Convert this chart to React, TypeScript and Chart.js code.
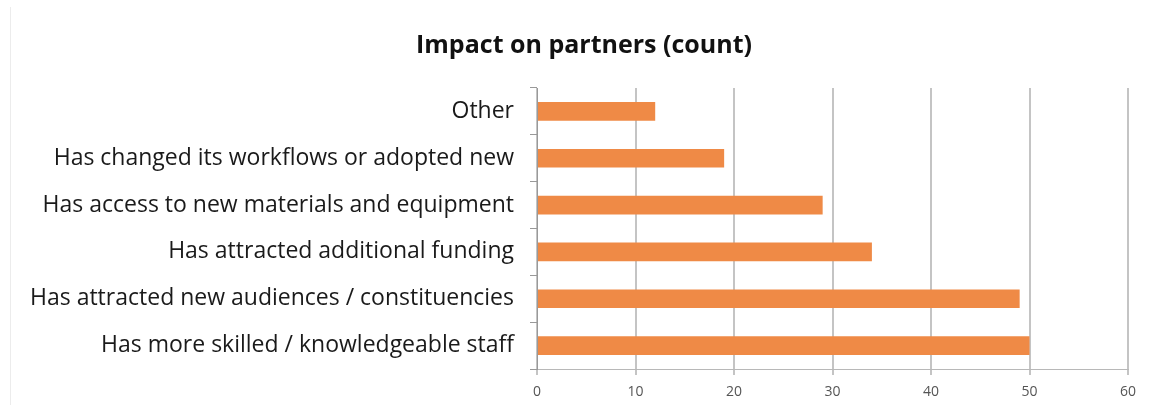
import React, { useEffect, useRef } from "react";
import { Chart, registerables } from "chart.js";

Chart.register(...registerables);

const categories: string[] = [
  "Other",
  "Has changed its workflows or adopted new",
  "Has access to new materials and equipment",
  "Has attracted additional funding",
  "Has attracted new audiences / constituencies",
  "Has more skilled / knowledgeable staff",
];
const counts: number[] = [12, 19, 29, 34, 49, 50];
const xTicks: number[] = [0, 10, 20, 30, 40, 50, 60];
const chartTitle = "Impact on partners (count)";

const FONT = "'Open Sans', Lato, sans-serif";

const titlePlugin = {
  id: "customTitle",
  afterDraw(chart: any) {
    const ctx = chart.ctx;
    ctx.save();
    ctx.font = `bold 25px ${FONT}`;
    ctx.fillStyle = "#111";
    ctx.textAlign = "center";
    ctx.textBaseline = "middle";
    ctx.fillText(chartTitle, 584, 46);
    ctx.restore();
  },
};

export default function App() {
  const ref = useRef<HTMLCanvasElement | null>(null);

  useEffect(() => {
    document.body.style.margin = "0";
    const canvas = ref.current;
    if (!canvas) return;
    const chart = new Chart(canvas, {
      type: "bar",
      data: {
        labels: categories,
        datasets: [
          {
            label: "Count",
            data: counts,
            backgroundColor: "#ef8a46",
            borderWidth: 0,
            barPercentage: 0.4,
            categoryPercentage: 1,
          },
        ],
      },
      plugins: [titlePlugin],
      options: {
        indexAxis: "y",
        animation: false,
        responsive: false,
        maintainAspectRatio: false,
        layout: { padding: { left: 16, right: 25, top: 88, bottom: 0 } },
        plugins: {
          legend: { display: false },
          tooltip: { enabled: false },
          title: { display: false },
        },
        scales: {
          x: {
            min: 0,
            max: 60,
            afterBuildTicks: (scale: any) => {
              scale.ticks = xTicks.map((v) => ({ value: v }));
            },
            afterFit: (scale: any) => {
              scale.height = 36;
            },
            grid: {
              color: "#c4c4c4",
              lineWidth: 2,
              tickLength: 6,
              drawTicks: true,
            },
            border: { display: true, color: "#b8b8b8", width: 1 },
            ticks: {
              color: "#555",
              font: { family: FONT, size: 14 },
              padding: 9,
            },
          },
          y: {
            afterFit: (scale: any) => {
              scale.width = 537 - 16;
            },
            grid: {
              offset: true,
              drawOnChartArea: false,
              drawTicks: true,
              tickLength: 7,
              color: "#999",
            },
            border: { display: true, color: "#999", width: 1 },
            ticks: {
              color: "#1a1a1a",
              font: { family: FONT, size: 23 },
              padding: 16,
            },
          },
        },
      },
    });
    return () => chart.destroy();
  }, []);

  return (
    <div style={{ position: "relative", width: 1153, height: 405, background: "#fff" }}>
      <canvas ref={ref} width={1153} height={405} style={{ display: "block" }} />
      <div
        style={{
          position: "absolute",
          left: 10,
          top: 7,
          width: 0,
          height: 398,
          borderLeft: "1px solid #ececec",
        }}
      />
    </div>
  );
}
